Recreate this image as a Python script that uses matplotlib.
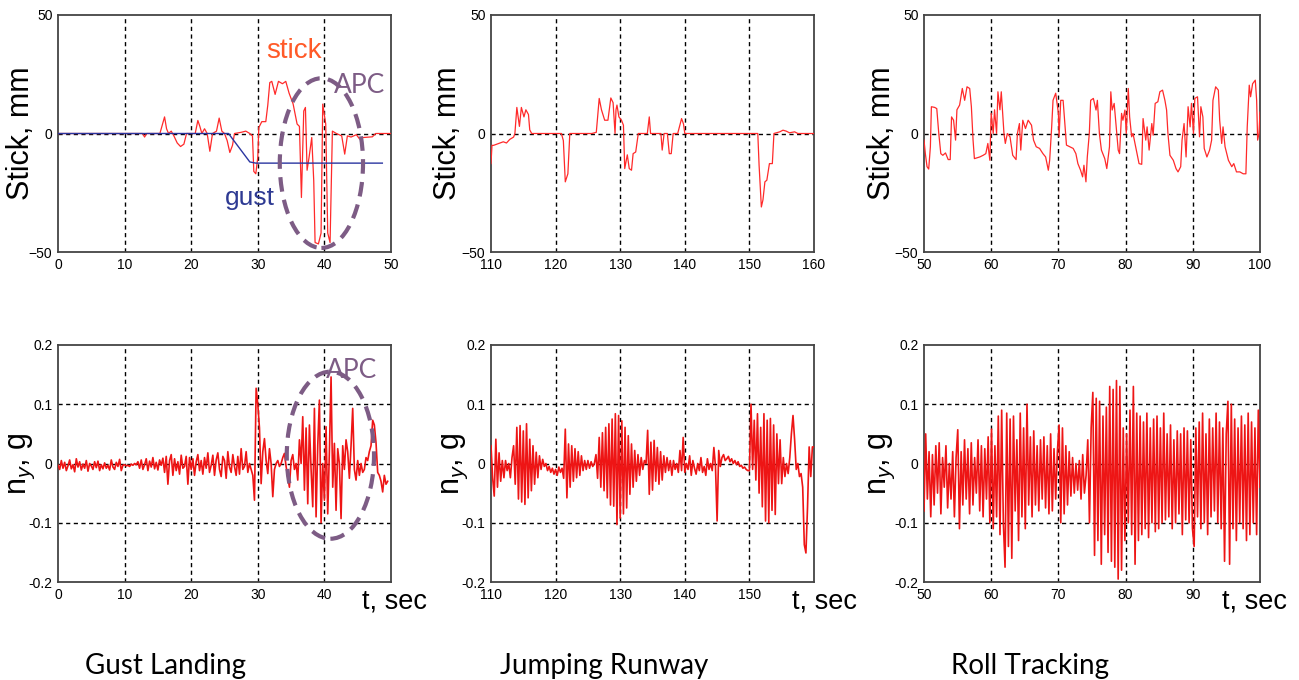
import numpy as np
import matplotlib
matplotlib.use("Agg")
import matplotlib.pyplot as plt
from matplotlib.patches import Ellipse

plt.rcParams['font.family'] = ['Liberation Sans', 'DejaVu Sans']
plt.rcParams['mathtext.fontset'] = 'custom'
plt.rcParams['mathtext.rm'] = 'Liberation Sans'
plt.rcParams['mathtext.it'] = 'Liberation Sans:italic'

# ---- stick traces, (time s, stick mm) ----
gust_stick_t = [0, 12.7, 13.0, 13.3, 15.3, 15.7, 16.0, 16.3, 16.6, 17.0,
                17.4, 17.9, 18.4, 18.9, 19.3, 20.6, 21.0, 21.3, 21.6, 22.0,
                22.4, 22.8, 23.2, 23.8, 24.2, 24.6, 25.0, 25.4, 25.8, 26.2,
                26.5, 27.5, 28.2, 28.8, 29.2, 29.4, 29.7, 30.0, 30.15, 30.6,
                31.2, 31.5, 31.8, 32.1, 32.6, 33.1, 33.7, 34.2, 34.7, 35.3,
                35.9, 36.25, 36.55, 36.9, 37.15, 37.4, 37.7, 38.1, 38.4, 38.6,
                39.1, 39.5, 39.75, 40.2, 40.5, 40.85, 41.2, 41.8, 42.6, 43.05,
                43.45, 44.0, 44.8, 45.3, 45.8, 47.2, 47.7, 50]
gust_stick_mm = [0, 0, -1.5, 0, 0, 4, 7, 2, 0, 1,
                 -1, -4, -5.5, -4.5, 0, 0, 5.5, 3, 0, 2,
                 0, -7.5, 0, 1, 6.5, 1, 0, -3, -8, -5,
                 0, 0.5, 1, 0, -1, -16, -17, -10, 2.5, 5,
                 5, 12, 21.5, 22, 16.5, 22, 21, 22, 17, 12.5,
                 4, 3, -27, 9.5, 11, -15.5, -10, -1.7, -20, -46,
                 -46.6, -42, 12.4, 4, -42, -46, 1, 0, -1, -8.7,
                 -1, -1.5, -0.5, -2.4, -1.7, -1.4, 0, 0]
gust_t = [0, 25.6, 28.8, 29.7, 48.7]
gust_mm = [0, 0, -12, -12.5, -12.5]

jump_stick_t = [110, 110.15, 110.4, 111.4, 111.9, 112.4, 112.9, 113.5, 113.7, 114.0,
                114.4, 114.7, 115.1, 115.4, 115.8, 116.0, 116.3, 120.9, 121.2, 121.5,
                121.9, 122.2, 125.6, 126.3, 126.75, 127.1, 127.6, 128.1, 128.55, 128.9,
                129.2, 129.35, 129.5, 129.8, 130.2, 130.5, 130.7, 131.1, 131.4, 131.75,
                132.0, 132.4, 132.8, 134.2, 134.5, 134.7, 136.3, 136.5, 136.8, 137.3,
                137.6, 137.9, 138.2, 138.9, 139.5, 139.8, 140.0, 151.3, 151.5, 151.85,
                152.1, 152.4, 152.7, 153.1, 153.55, 153.8, 154.7, 155.2, 155.7, 156.2,
                157.0, 157.5, 160]
jump_stick_mm = [-12.7, -5, -5, -4, -3.5, -4, -2.5, -1.5, 0, 11,
                 3, 11, 7, 10, 8, 1.5, 0, 0, -3, -20.4,
                 -17, 0, 0, 0.5, 14.8, 10, 5.6, 5.6, 15, 13,
                 0, 10, 12, 7, 5.6, 3.5, -14.8, -9, -14.8, -15.5,
                 -8.5, -7.8, 0, 0, 7, 0, 0, -7, 0, 0,
                 -8.5, -8.5, 0, 0, 6.3, 4, 0, 0, -13.4, -31,
                 -28, -20.4, -19.7, -12.7, -12.7, 0, 0.7, 1.4, 1, 0.3,
                 0.7, 0, 0]

roll_stick_t = [50.0, 50.2, 50.45, 50.7, 50.95, 51.1, 51.6, 51.9, 52.2, 52.5,
                52.8, 53.2, 53.6, 53.9, 54.1, 54.4, 54.7, 54.9, 55.3, 55.7,
                56.05, 56.4, 56.8, 57.05, 57.3, 57.5, 58.3, 58.8, 59.2, 59.5,
                59.8, 60.0, 60.3, 60.5, 60.8, 61.0, 61.3, 61.5, 61.9, 62.1,
                62.4, 62.8, 63.2, 63.7, 63.9, 64.2, 64.4, 64.7, 65.1, 65.5,
                66.0, 66.3, 66.7, 67.2, 67.7, 68.1, 68.5, 68.7, 69.0, 69.2,
                69.6, 70.0, 70.1, 70.35, 70.7, 71.0, 71.2, 71.7, 72.2, 72.6,
                72.9, 73.3, 73.6, 73.8, 74.1, 74.3, 74.6, 74.8, 75.2, 75.6,
                75.8, 76.1, 76.4, 76.9, 77.2, 77.6, 77.8, 78.0, 78.3, 78.6,
                78.9, 79.1, 79.4, 79.6, 79.9, 80.1, 80.4, 80.6, 80.9, 81.1,
                81.5, 82.0, 82.4, 82.6, 83.0, 83.2, 83.5, 83.9, 84.1, 84.4,
                84.8, 85.1, 85.5, 85.85, 86.1, 86.3, 86.6, 87.1, 87.5, 87.8,
                88.2, 88.4, 88.7, 89.0, 89.3, 89.6, 89.8, 90.1, 90.3, 90.7,
                91.0, 91.2, 91.5, 91.7, 92.1, 92.5, 92.8, 93.0, 93.4, 93.8,
                94.0, 94.3, 94.5, 94.8, 95.3, 95.8, 96.1, 96.5, 97.0, 97.5,
                97.9, 98.1, 98.4, 98.6, 98.9, 99.3, 99.5, 99.65, 99.85, 100.0]
roll_stick_mm = [-2.8, -8.5, -14, -15, -5.6, 11.3, 11, 10.5, 0, -8.5,
                 -9.2, -8.2, -11, -11, 7, 5.6, -2.8, 10, 12, 19,
                 14, 19.7, 19, 11.3, -2.8, -10.6, -9.9, -9.2, -8.5, -4.2,
                 -11.3, 8.5, 0, 10, 0, 17.6, 10, 17.6, 0, -4.2,
                 0, -1.4, -9.2, -11, 0, 4.2, -7, 5.6, 2.1, 5.6,
                 3.5, -2.8, -5.6, -6.3, -8.5, -9.9, -15.5, -11.3, 2.8, 14,
                 17, 8.5, -1.4, 14, 14, 2.8, -4.9, -5.6, -6.3, -8.5,
                 -12.7, -15.5, -18.3, -13.4, -20.4, -9.9, 0, 14, 14.8, 9.9,
                 14, 0, -7, -10.6, -14.8, -5.6, 17.6, 9.9, 12.7, 2.8,
                 -7, -8.5, 8.5, 5.6, 9.9, 0, 19, 7, -1.4, 0,
                 -5.6, -12.7, -13, 6.3, -2.8, 2.8, -7, 4.2, -0.7, 12.7,
                 13.4, 17.6, 18.3, 14, 9.9, 0, -9.2, -11.3, -14.8, -16.2,
                 -14, -2.8, 4.2, -9.9, 11.3, 2.8, 12.7, 0, 14.8, 15.5,
                 -1.4, 11.3, 7, -6.3, -9.9, -7, -2.8, 14, 19.7, 18.3,
                 5.6, -4.2, 2.8, -5.6, -11.3, -14, -12.7, -16.2, -16.2, -17,
                 -17, 2.8, 20.4, 15.5, 21, 22.5, 14, -2.8, 0, 9]

# ---- lateral load factor, in milli-g, sampled every 0.25 s ----
gust_ny_mg = [-3, -10, 5, -8, 2, -12, -4, 6, -9, -2, -14, 8, -6, 3, -11, -1,
              -8, 5, -13, 0, -4, -10, 3, -7, 4, -12, -2, -9, 1, -8, -3, -11,
              6, -6, -10, 2, -5, 7, -12, -3, -2, -4, -3, -5, -1, -3, 0, -2,
              3, -8, 6, -10, -2, 8, -12, 4, -6, 10, -9, 2, -11, 6, -3, 9,
              -15, 12, -35, 5, 15, -20, 8, -12, 3, -18, 14, -8, -5, 12, -35, 10,
              -10, 8, -20, 3, 15, -12, 5, -18, 10, -8, 18, -15, -3, 14, -20, 6,
              18, -10, -22, 12, 5, -25, 20, -6, -15, 15, -5, -20, 12, -18, 25, -10,
              -5, 20, -15, 0, -10, -20, -62, 127, 100, 60, -34, 20, 42, 5, -17, 25,
              0, -56, -10, 0, 5, -5, 0, 10, 17, -5, -23, -40, 5, 15, -10, 0,
              -28, 40, 0, 79, -45, 60, -68, 65, -10, -73, 93, -90, 30, 107, -100, 0,
              -62, 62, -85, 20, 146, -40, 34, -79, 25, 0, -93, 30, -10, 40, 20, -25,
              30, 93, -10, -28, 5, -20, 0, -15, -10, 10, 5, 20, 30, 73, 65, 35,
              -15, -20, -30, -48, -20, -35, -30]
jump_ny_mg = [30, -24, -55, 41, -40, 18, -30, 5, -24, 5, -12, 0, -24, 10, 30, -35,
              61, -60, 64, -65, 55, -69, 67, -58, 41, -46, 30, -35, 19, -24, 13, -10,
              7, -5, 0, -12, -5, -15, -8, -18, -10, -20, -6, -15, -8, -25, 58, -58,
              33, -40, 30, -30, 25, -24, 20, -20, 13, -12, 5, -10, 5, -8, 3, -5,
              0, 15, -25, 44, -40, 52, -46, 61, -58, 67, -70, 75, -72, 84, -103, 81,
              -92, 72, -85, 61, -75, 47, -52, 33, -40, 22, -30, 15, -20, 10, -10, 5,
              0, 56, -52, 36, -45, 39, -30, 27, -35, 20, -28, 13, -15, 10, -12, 5,
              -20, 5, -10, 0, -15, 22, -12, 44, -15, 0, -10, 13, -20, 5, -8, -18,
              0, -12, 10, -15, -5, -20, 8, -10, 0, -12, 27, -5, -97, 22, -5, 10,
              15, 5, 8, 12, 3, 8, 0, 5, -2, 3, -5, -3, -8, -6, -10, -12,
              -12, 100, -10, 73, -28, 84, -50, 61, -73, 84, -97, 73, -100, 76, -79, 65,
              -86, 50, -34, 40, -34, 10, -22, 0, -17, 10, 50, 81, 40, -10, 0, -22,
              -17, -40, -137, -151, -73, 28, -22, 28, 28]
roll_ny_mg = [-80, 50, -60, 20, -90, 15, -70, 30, -50, 35, -85, 10, -40, 30, -75, 0,
              -60, 20, -90, 10, 57, -110, 20, -70, 40, -60, 25, -85, 35, -70, 10, -50,
              40, -80, 30, -90, 25, -60, 45, -100, 58, -110, 30, -90, 80, -120, 90, -100,
              -175, 85, -140, 75, -160, 80, -80, 40, -130, 85, -90, 60, -110, 100, -70, 45,
              -90, 55, -70, 30, -80, 40, -60, 45, -75, 30, -85, 50, -80, 25, -60, 20,
              65, -100, 60, -85, 30, -70, 20, -55, 10, -50, 0, -45, 5, -60, 15, -50,
              -20, 40, -100, 60, 120, -155, 110, -130, 105, -170, 80, -120, 95, -150, 130, -165,
              125, -175, 140, -195, 130, -180, 60, -130, 50, -100, 90, -120, 130, -170, 85, -130,
              80, -120, 70, -110, 85, -125, 60, -100, 75, -115, 80, -110, 60, -100, 85, -95,
              50, -90, 65, -110, 40, -100, 55, -85, 50, -120, 60, -95, 55, -100, 40, -110,
              -140, 60, -90, 70, -110, 85, -100, 50, -120, 75, -90, 60, -80, 85, -100, 70,
              -110, 60, -165, 50, 105, -170, 100, -110, 75, -130, 60, -100, 80, -110, 65, -130,
              85, -120, 70, -100, 60, -120, 90, -40]

gust_ny_t = np.linspace(0, 49.5, len(gust_ny_mg))
jump_ny_t = np.linspace(110, 160, len(jump_ny_mg))
roll_ny_t = np.linspace(50, 100, len(roll_ny_mg))

captions = ['Gust Landing', 'Jumping Runway', 'Roll Tracking']
xranges = [(0, 50), (110, 160), (50, 100)]

stick_col = '#ff2a2a'
ny_col = '#ee1515'
apc_col = '#7d5c85'

fig = plt.figure(figsize=(12.99, 6.80), dpi=100)

# axes boxes in pixels: left, right
boxes = [(58, 391), (491, 814), (924, 1260)]
ylab_x = [(-0.111, -0.108), (-0.133, -0.11), (-0.125, -0.125)]
tsec_x = [362, 792, 1222]


def style(ax, xr, xt, yt, grid_y):
    ax.set_xlim(*xr)
    ax.set_xticks(xt)
    ax.set_yticks(yt)
    ax.tick_params(length=0, labelsize=10, pad=4)
    for s in ax.spines.values():
        s.set_color('#444444')
        s.set_linewidth(1.3)
    for x in xt:
        if xr[0] < x < xr[1]:
            ax.axvline(x, color='k', lw=1.0, ls=(0, (3, 2.5)), zorder=1)
    for y in grid_y:
        ax.axhline(y, color='k', lw=1.0, ls=(0, (3, 2.5)), zorder=1)


stick_data = [(gust_stick_t, gust_stick_mm), (jump_stick_t, jump_stick_mm),
              (roll_stick_t, roll_stick_mm)]
ny_data = [(gust_ny_t, gust_ny_mg), (jump_ny_t, jump_ny_mg), (roll_ny_t, roll_ny_mg)]

for i in range(3):
    l, r = boxes[i]
    xr = xranges[i]
    ax1 = fig.add_axes([l / 1299, 1 - 252 / 680, (r - l) / 1299, 237 / 680])
    style(ax1, xr, np.arange(xr[0], xr[1] + 1, 10), [-50, 0, 50], [0])
    ax1.set_ylim(-50, 50)
    ax1.plot(stick_data[i][0], stick_data[i][1], color=stick_col, lw=0.9, zorder=3)
    ax1.set_ylabel('Stick, mm', fontsize=22, va='center')
    ax1.yaxis.set_label_coords(ylab_x[i][0], 0.5)

    ax2 = fig.add_axes([l / 1299, 1 - 582 / 680, (r - l) / 1299, 237 / 680])
    style(ax2, xr, np.arange(xr[0], xr[1], 10), [-0.2, -0.1, 0, 0.1, 0.2], [-0.1, 0, 0.1])
    ax2.set_yticklabels(['-0.2', '-0.1', '0', '0.1', '0.2'])
    ax2.set_ylim(-0.2, 0.2)
    ax2.plot(ny_data[i][0], np.array(ny_data[i][1]) / 1000.0, color=ny_col, lw=1.2, zorder=3)
    ax2.set_ylabel(r'n$_{y}$, g', fontsize=22, va='center')
    ax2.yaxis.set_label_coords(ylab_x[i][1], 0.5)

    fig.text(tsec_x[i] / 1299, 1 - 608 / 680, 't, sec', fontsize=19.5, va='baseline')

    if i == 0:
        ax1.plot(gust_t, gust_mm, color='#2a35a0', lw=1.0, zorder=3)
        ax1.text(31.3, 31.9, 'stick', color='#ff5a28', fontsize=20)
        ax1.text(41.5, 17.2, 'APC', color=apc_col, fontsize=19, family=['Lato', 'DejaVu Sans'])
        ax1.text(25.0, -30, 'gust', color='#2e3a93', fontsize=19)
        ax1.add_patch(Ellipse((39.55, -12.5), 12.5, 71.6, fill=False, ec=apc_col,
                              lw=3, ls=(0, (3.5, 2)), zorder=4))
        ax2.text(40.2, 0.144, 'APC', color=apc_col, fontsize=19, family=['Lato', 'DejaVu Sans'])
        ax2.add_patch(Ellipse((40.9, 0.014), 13.1, 0.282, fill=False, ec=apc_col,
                              lw=3, ls=(0, (3.5, 2)), zorder=4))

cap_x = [165, 604, 1030]
for i in range(3):
    fig.text(cap_x[i] / 1299, 1 - 666 / 680, captions[i], fontsize=20, ha='center',
             va='center', family=['Lato', 'DejaVu Sans'])

fig.savefig('out.png', dpi=100)
